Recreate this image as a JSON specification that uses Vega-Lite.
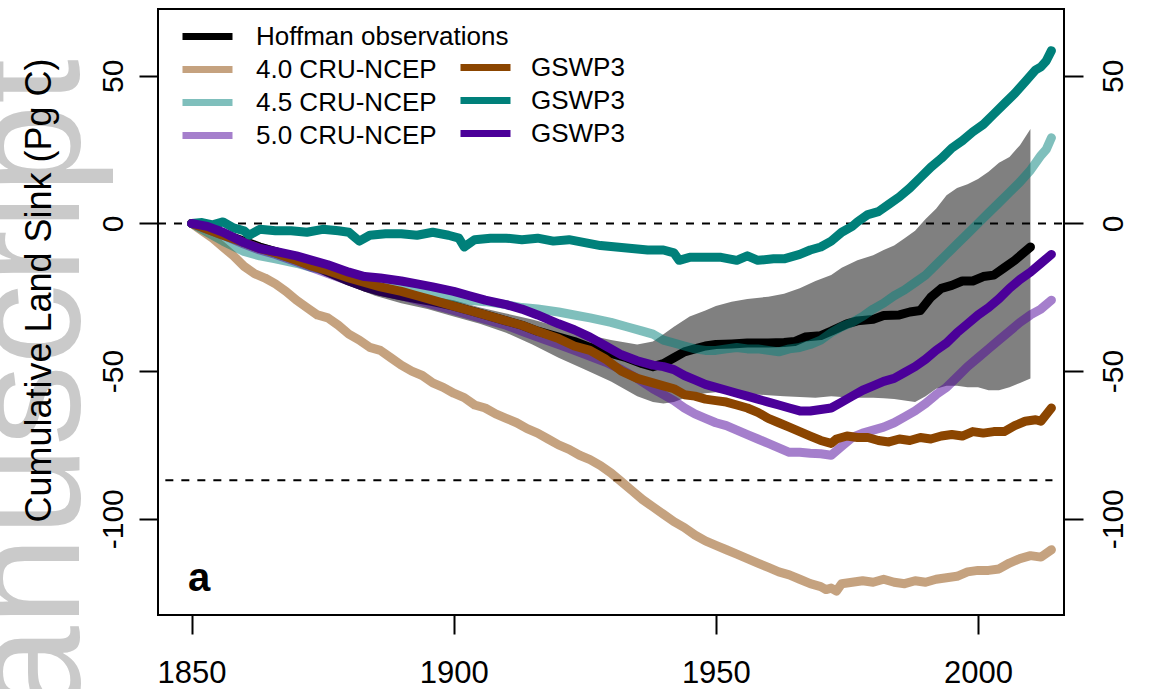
{
"$schema": "https://vega.github.io/schema/vega-lite/v6.json",
"width": 906, "height": 606,
"autosize": {"type": "none"},
"padding": {"left": 158, "top": 9, "right": 85, "bottom": 74},
"background": "white",
"config": {
  "view": {"stroke": "black", "strokeWidth": 2},
  "font": "Liberation Sans",
  "axis": {"domain": false, "grid": false, "tickColor": "black", "tickWidth": 2, "tickSize": 19, "labelColor": "black", "labelFont": "Liberation Sans", "titleFont": "Liberation Sans", "titleColor": "black"},
  "legend": {"labelFont": "Liberation Sans", "labelColor": "black"}
},
"title": {"text": "Manuscript", "orient": "left", "anchor": "end", "fontSize": 162, "font": "Liberation Sans", "fontWeight": "normal", "color": "#cacaca", "offset": -80, "dx": -50, "dy": 12, "zindex": 0},
"datasets": {
  "band": [
    {"year":1850,"lo":0,"hi":0},{"year":1855,"lo":-4,"hi":-2.5},{"year":1860,"lo":-7.5,"hi":-5},{"year":1865,"lo":-11,"hi":-7.5},{"year":1870,"lo":-14,"hi":-10.5},{"year":1875,"lo":-17.5,"hi":-13.5},{"year":1880,"lo":-21,"hi":-17},{"year":1885,"lo":-24.5,"hi":-20.5},{"year":1890,"lo":-27,"hi":-22.5},{"year":1895,"lo":-29,"hi":-24.5},{"year":1900,"lo":-31.5,"hi":-26},{"year":1905,"lo":-34,"hi":-28.5},{"year":1910,"lo":-37,"hi":-30.5},{"year":1915,"lo":-41,"hi":-32.5},{"year":1920,"lo":-45.5,"hi":-35},{"year":1925,"lo":-49.5,"hi":-37.5},{"year":1930,"lo":-53.5,"hi":-39.5},{"year":1935,"lo":-58.5,"hi":-41},{"year":1938,"lo":-60.5,"hi":-40},{"year":1940,"lo":-61,"hi":-37.5},{"year":1942,"lo":-60.5,"hi":-35},{"year":1945,"lo":-58.5,"hi":-31.5},{"year":1948,"lo":-57.5,"hi":-29.5},{"year":1950,"lo":-57.2,"hi":-28},{"year":1953,"lo":-57.5,"hi":-26.5},{"year":1956,"lo":-57.7,"hi":-25.6},{"year":1960,"lo":-58.2,"hi":-24.8},{"year":1963,"lo":-58.5,"hi":-23.8},{"year":1966,"lo":-58.8,"hi":-22},{"year":1969,"lo":-59,"hi":-19.5},{"year":1972,"lo":-58.5,"hi":-17.5},{"year":1974,"lo":-58.8,"hi":-15},{"year":1977,"lo":-59,"hi":-12.5},{"year":1980,"lo":-59,"hi":-10.8},{"year":1982,"lo":-59.2,"hi":-9},{"year":1984,"lo":-59.5,"hi":-7.5},{"year":1986,"lo":-60,"hi":-5},{"year":1988,"lo":-60.5,"hi":-2.5},{"year":1990,"lo":-58.5,"hi":1.5},{"year":1992,"lo":-56,"hi":5},{"year":1994,"lo":-55,"hi":9.5},{"year":1996,"lo":-55,"hi":12},{"year":1998,"lo":-55.5,"hi":13.3},{"year":2000,"lo":-55.5,"hi":15},{"year":2002,"lo":-56.5,"hi":17.5},{"year":2004,"lo":-56.5,"hi":20.5},{"year":2006,"lo":-55.5,"hi":22.5},{"year":2008,"lo":-54,"hi":26.5},{"year":2010,"lo":-52.5,"hi":32}
  ],
  "refs": [
    {"x": 1843.6, "x2": 2016.4, "y": 0},
    {"x": 1845, "x2": 2014.2, "y": -87}
  ],
  "hoffman": [
    {"series":"Hoffman observations","year":1850,"value":0},{"series":"Hoffman observations","year":1853,"value":-1.5},{"series":"Hoffman observations","year":1856,"value":-3.5},{"series":"Hoffman observations","year":1860,"value":-6},{"series":"Hoffman observations","year":1863,"value":-8},{"series":"Hoffman observations","year":1866,"value":-9.5},{"series":"Hoffman observations","year":1870,"value":-12},{"series":"Hoffman observations","year":1873,"value":-14},{"series":"Hoffman observations","year":1876,"value":-16.5},{"series":"Hoffman observations","year":1880,"value":-19.5},{"series":"Hoffman observations","year":1883,"value":-21.5},{"series":"Hoffman observations","year":1886,"value":-23},{"series":"Hoffman observations","year":1890,"value":-24.5},{"series":"Hoffman observations","year":1893,"value":-25.5},{"series":"Hoffman observations","year":1896,"value":-26.5},{"series":"Hoffman observations","year":1900,"value":-28},{"series":"Hoffman observations","year":1903,"value":-29.5},{"series":"Hoffman observations","year":1906,"value":-31},{"series":"Hoffman observations","year":1910,"value":-33},{"series":"Hoffman observations","year":1913,"value":-34.5},{"series":"Hoffman observations","year":1916,"value":-36.5},{"series":"Hoffman observations","year":1920,"value":-38.5},{"series":"Hoffman observations","year":1923,"value":-40},{"series":"Hoffman observations","year":1926,"value":-42},{"series":"Hoffman observations","year":1930,"value":-44},{"series":"Hoffman observations","year":1933,"value":-45.5},{"series":"Hoffman observations","year":1936,"value":-47.5},{"series":"Hoffman observations","year":1938,"value":-48.5},{"series":"Hoffman observations","year":1940,"value":-47.5},{"series":"Hoffman observations","year":1942,"value":-45.5},{"series":"Hoffman observations","year":1944,"value":-43.5},{"series":"Hoffman observations","year":1946,"value":-42.5},{"series":"Hoffman observations","year":1948,"value":-41.5},{"series":"Hoffman observations","year":1950,"value":-41},{"series":"Hoffman observations","year":1953,"value":-40.8},{"series":"Hoffman observations","year":1956,"value":-40.5},{"series":"Hoffman observations","year":1960,"value":-40.5},{"series":"Hoffman observations","year":1963,"value":-40.3},{"series":"Hoffman observations","year":1965,"value":-40},{"series":"Hoffman observations","year":1967,"value":-38.5},{"series":"Hoffman observations","year":1970,"value":-38},{"series":"Hoffman observations","year":1972,"value":-36.5},{"series":"Hoffman observations","year":1975,"value":-34},{"series":"Hoffman observations","year":1977,"value":-33},{"series":"Hoffman observations","year":1980,"value":-32.5},{"series":"Hoffman observations","year":1982,"value":-31.2},{"series":"Hoffman observations","year":1985,"value":-31},{"series":"Hoffman observations","year":1987,"value":-30},{"series":"Hoffman observations","year":1989,"value":-29.5},{"series":"Hoffman observations","year":1991,"value":-25},{"series":"Hoffman observations","year":1993,"value":-22},{"series":"Hoffman observations","year":1995,"value":-21},{"series":"Hoffman observations","year":1997,"value":-19.5},{"series":"Hoffman observations","year":1999,"value":-19.5},{"series":"Hoffman observations","year":2001,"value":-18},{"series":"Hoffman observations","year":2003,"value":-17.5},{"series":"Hoffman observations","year":2005,"value":-15},{"series":"Hoffman observations","year":2007,"value":-12.5},{"series":"Hoffman observations","year":2010,"value":-8}
  ],
  "cru": [
    {"series":"4.0 CRU-NCEP","year":1850,"value":0},{"series":"4.0 CRU-NCEP","year":1852,"value":-2.5},{"series":"4.0 CRU-NCEP","year":1854,"value":-5},{"series":"4.0 CRU-NCEP","year":1856,"value":-8},{"series":"4.0 CRU-NCEP","year":1858,"value":-11},{"series":"4.0 CRU-NCEP","year":1860,"value":-14.5},{"series":"4.0 CRU-NCEP","year":1862,"value":-17},{"series":"4.0 CRU-NCEP","year":1864,"value":-18.5},{"series":"4.0 CRU-NCEP","year":1866,"value":-20.5},{"series":"4.0 CRU-NCEP","year":1868,"value":-23},{"series":"4.0 CRU-NCEP","year":1870,"value":-26},{"series":"4.0 CRU-NCEP","year":1872,"value":-28.5},{"series":"4.0 CRU-NCEP","year":1874,"value":-31},{"series":"4.0 CRU-NCEP","year":1876,"value":-32},{"series":"4.0 CRU-NCEP","year":1878,"value":-34.5},{"series":"4.0 CRU-NCEP","year":1880,"value":-37.5},{"series":"4.0 CRU-NCEP","year":1882,"value":-39.5},{"series":"4.0 CRU-NCEP","year":1884,"value":-42},{"series":"4.0 CRU-NCEP","year":1886,"value":-43},{"series":"4.0 CRU-NCEP","year":1888,"value":-45.5},{"series":"4.0 CRU-NCEP","year":1890,"value":-48},{"series":"4.0 CRU-NCEP","year":1892,"value":-50},{"series":"4.0 CRU-NCEP","year":1894,"value":-51.5},{"series":"4.0 CRU-NCEP","year":1896,"value":-54},{"series":"4.0 CRU-NCEP","year":1898,"value":-55.5},{"series":"4.0 CRU-NCEP","year":1900,"value":-57.5},{"series":"4.0 CRU-NCEP","year":1902,"value":-59},{"series":"4.0 CRU-NCEP","year":1904,"value":-61.5},{"series":"4.0 CRU-NCEP","year":1906,"value":-62.5},{"series":"4.0 CRU-NCEP","year":1908,"value":-64.5},{"series":"4.0 CRU-NCEP","year":1910,"value":-66},{"series":"4.0 CRU-NCEP","year":1912,"value":-67.5},{"series":"4.0 CRU-NCEP","year":1914,"value":-69.5},{"series":"4.0 CRU-NCEP","year":1916,"value":-71},{"series":"4.0 CRU-NCEP","year":1918,"value":-73},{"series":"4.0 CRU-NCEP","year":1920,"value":-75},{"series":"4.0 CRU-NCEP","year":1922,"value":-76.5},{"series":"4.0 CRU-NCEP","year":1924,"value":-78.5},{"series":"4.0 CRU-NCEP","year":1926,"value":-80},{"series":"4.0 CRU-NCEP","year":1928,"value":-82},{"series":"4.0 CRU-NCEP","year":1930,"value":-84.5},{"series":"4.0 CRU-NCEP","year":1932,"value":-87.5},{"series":"4.0 CRU-NCEP","year":1934,"value":-90.5},{"series":"4.0 CRU-NCEP","year":1936,"value":-93.5},{"series":"4.0 CRU-NCEP","year":1938,"value":-96},{"series":"4.0 CRU-NCEP","year":1940,"value":-98.5},{"series":"4.0 CRU-NCEP","year":1942,"value":-101},{"series":"4.0 CRU-NCEP","year":1944,"value":-103},{"series":"4.0 CRU-NCEP","year":1946,"value":-105.5},{"series":"4.0 CRU-NCEP","year":1948,"value":-107.5},{"series":"4.0 CRU-NCEP","year":1950,"value":-109},{"series":"4.0 CRU-NCEP","year":1952,"value":-110.5},{"series":"4.0 CRU-NCEP","year":1954,"value":-112},{"series":"4.0 CRU-NCEP","year":1956,"value":-113.5},{"series":"4.0 CRU-NCEP","year":1958,"value":-115},{"series":"4.0 CRU-NCEP","year":1960,"value":-116.5},{"series":"4.0 CRU-NCEP","year":1962,"value":-118},{"series":"4.0 CRU-NCEP","year":1964,"value":-119},{"series":"4.0 CRU-NCEP","year":1966,"value":-120.5},{"series":"4.0 CRU-NCEP","year":1968,"value":-122},{"series":"4.0 CRU-NCEP","year":1970,"value":-123},{"series":"4.0 CRU-NCEP","year":1971,"value":-124},{"series":"4.0 CRU-NCEP","year":1972,"value":-123.5},{"series":"4.0 CRU-NCEP","year":1973,"value":-124.5},{"series":"4.0 CRU-NCEP","year":1974,"value":-122},{"series":"4.0 CRU-NCEP","year":1976,"value":-121.5},{"series":"4.0 CRU-NCEP","year":1978,"value":-121},{"series":"4.0 CRU-NCEP","year":1980,"value":-121.5},{"series":"4.0 CRU-NCEP","year":1982,"value":-120.5},{"series":"4.0 CRU-NCEP","year":1984,"value":-121.5},{"series":"4.0 CRU-NCEP","year":1986,"value":-122},{"series":"4.0 CRU-NCEP","year":1988,"value":-121},{"series":"4.0 CRU-NCEP","year":1990,"value":-121.5},{"series":"4.0 CRU-NCEP","year":1992,"value":-120.5},{"series":"4.0 CRU-NCEP","year":1994,"value":-120},{"series":"4.0 CRU-NCEP","year":1996,"value":-119.5},{"series":"4.0 CRU-NCEP","year":1998,"value":-118},{"series":"4.0 CRU-NCEP","year":2000,"value":-117.5},{"series":"4.0 CRU-NCEP","year":2002,"value":-117.5},{"series":"4.0 CRU-NCEP","year":2004,"value":-117},{"series":"4.0 CRU-NCEP","year":2006,"value":-115},{"series":"4.0 CRU-NCEP","year":2008,"value":-113.5},{"series":"4.0 CRU-NCEP","year":2010,"value":-112.5},{"series":"4.0 CRU-NCEP","year":2012,"value":-113},{"series":"4.0 CRU-NCEP","year":2014,"value":-110.5},
    {"series":"4.5 CRU-NCEP","year":1850,"value":0},{"series":"4.5 CRU-NCEP","year":1853,"value":-3},{"series":"4.5 CRU-NCEP","year":1856,"value":-6},{"series":"4.5 CRU-NCEP","year":1860,"value":-9.5},{"series":"4.5 CRU-NCEP","year":1863,"value":-11},{"series":"4.5 CRU-NCEP","year":1866,"value":-12},{"series":"4.5 CRU-NCEP","year":1870,"value":-13.5},{"series":"4.5 CRU-NCEP","year":1873,"value":-15},{"series":"4.5 CRU-NCEP","year":1876,"value":-16},{"series":"4.5 CRU-NCEP","year":1880,"value":-18},{"series":"4.5 CRU-NCEP","year":1883,"value":-19.5},{"series":"4.5 CRU-NCEP","year":1886,"value":-20.5},{"series":"4.5 CRU-NCEP","year":1890,"value":-22},{"series":"4.5 CRU-NCEP","year":1893,"value":-23},{"series":"4.5 CRU-NCEP","year":1896,"value":-24},{"series":"4.5 CRU-NCEP","year":1900,"value":-25},{"series":"4.5 CRU-NCEP","year":1903,"value":-26},{"series":"4.5 CRU-NCEP","year":1906,"value":-26.5},{"series":"4.5 CRU-NCEP","year":1910,"value":-27.5},{"series":"4.5 CRU-NCEP","year":1913,"value":-28.5},{"series":"4.5 CRU-NCEP","year":1916,"value":-29},{"series":"4.5 CRU-NCEP","year":1920,"value":-30},{"series":"4.5 CRU-NCEP","year":1923,"value":-31},{"series":"4.5 CRU-NCEP","year":1926,"value":-32},{"series":"4.5 CRU-NCEP","year":1930,"value":-33.5},{"series":"4.5 CRU-NCEP","year":1933,"value":-35},{"series":"4.5 CRU-NCEP","year":1936,"value":-36.5},{"series":"4.5 CRU-NCEP","year":1938,"value":-37.5},{"series":"4.5 CRU-NCEP","year":1940,"value":-39.5},{"series":"4.5 CRU-NCEP","year":1942,"value":-40.5},{"series":"4.5 CRU-NCEP","year":1944,"value":-41.5},{"series":"4.5 CRU-NCEP","year":1946,"value":-42.5},{"series":"4.5 CRU-NCEP","year":1948,"value":-43},{"series":"4.5 CRU-NCEP","year":1950,"value":-43},{"series":"4.5 CRU-NCEP","year":1952,"value":-42.5},{"series":"4.5 CRU-NCEP","year":1954,"value":-42},{"series":"4.5 CRU-NCEP","year":1956,"value":-42.5},{"series":"4.5 CRU-NCEP","year":1958,"value":-42.5},{"series":"4.5 CRU-NCEP","year":1960,"value":-43},{"series":"4.5 CRU-NCEP","year":1962,"value":-43.5},{"series":"4.5 CRU-NCEP","year":1964,"value":-42.5},{"series":"4.5 CRU-NCEP","year":1966,"value":-42},{"series":"4.5 CRU-NCEP","year":1968,"value":-41},{"series":"4.5 CRU-NCEP","year":1970,"value":-39.5},{"series":"4.5 CRU-NCEP","year":1972,"value":-37},{"series":"4.5 CRU-NCEP","year":1974,"value":-35},{"series":"4.5 CRU-NCEP","year":1976,"value":-33.5},{"series":"4.5 CRU-NCEP","year":1978,"value":-31.5},{"series":"4.5 CRU-NCEP","year":1980,"value":-29},{"series":"4.5 CRU-NCEP","year":1982,"value":-27},{"series":"4.5 CRU-NCEP","year":1984,"value":-24.5},{"series":"4.5 CRU-NCEP","year":1986,"value":-22.5},{"series":"4.5 CRU-NCEP","year":1988,"value":-20},{"series":"4.5 CRU-NCEP","year":1990,"value":-17.5},{"series":"4.5 CRU-NCEP","year":1992,"value":-14},{"series":"4.5 CRU-NCEP","year":1994,"value":-10.5},{"series":"4.5 CRU-NCEP","year":1996,"value":-7},{"series":"4.5 CRU-NCEP","year":1998,"value":-3.5},{"series":"4.5 CRU-NCEP","year":2000,"value":0},{"series":"4.5 CRU-NCEP","year":2002,"value":3.5},{"series":"4.5 CRU-NCEP","year":2004,"value":7},{"series":"4.5 CRU-NCEP","year":2006,"value":10.5},{"series":"4.5 CRU-NCEP","year":2008,"value":14},{"series":"4.5 CRU-NCEP","year":2010,"value":18},{"series":"4.5 CRU-NCEP","year":2012,"value":23},{"series":"4.5 CRU-NCEP","year":2013,"value":25},{"series":"4.5 CRU-NCEP","year":2014,"value":29},
    {"series":"5.0 CRU-NCEP","year":1850,"value":0},{"series":"5.0 CRU-NCEP","year":1853,"value":-2},{"series":"5.0 CRU-NCEP","year":1856,"value":-4},{"series":"5.0 CRU-NCEP","year":1860,"value":-7},{"series":"5.0 CRU-NCEP","year":1863,"value":-9},{"series":"5.0 CRU-NCEP","year":1866,"value":-10.5},{"series":"5.0 CRU-NCEP","year":1870,"value":-13},{"series":"5.0 CRU-NCEP","year":1873,"value":-15},{"series":"5.0 CRU-NCEP","year":1876,"value":-17},{"series":"5.0 CRU-NCEP","year":1880,"value":-19.5},{"series":"5.0 CRU-NCEP","year":1883,"value":-21.5},{"series":"5.0 CRU-NCEP","year":1886,"value":-23},{"series":"5.0 CRU-NCEP","year":1890,"value":-24.5},{"series":"5.0 CRU-NCEP","year":1893,"value":-26},{"series":"5.0 CRU-NCEP","year":1896,"value":-27.5},{"series":"5.0 CRU-NCEP","year":1900,"value":-29.5},{"series":"5.0 CRU-NCEP","year":1903,"value":-31},{"series":"5.0 CRU-NCEP","year":1906,"value":-32.5},{"series":"5.0 CRU-NCEP","year":1910,"value":-34.5},{"series":"5.0 CRU-NCEP","year":1913,"value":-36.5},{"series":"5.0 CRU-NCEP","year":1916,"value":-38.5},{"series":"5.0 CRU-NCEP","year":1920,"value":-41},{"series":"5.0 CRU-NCEP","year":1923,"value":-43},{"series":"5.0 CRU-NCEP","year":1926,"value":-45},{"series":"5.0 CRU-NCEP","year":1929,"value":-47},{"series":"5.0 CRU-NCEP","year":1932,"value":-49.5},{"series":"5.0 CRU-NCEP","year":1935,"value":-52.5},{"series":"5.0 CRU-NCEP","year":1938,"value":-56},{"series":"5.0 CRU-NCEP","year":1940,"value":-58},{"series":"5.0 CRU-NCEP","year":1942,"value":-60},{"series":"5.0 CRU-NCEP","year":1944,"value":-62.5},{"series":"5.0 CRU-NCEP","year":1946,"value":-64.5},{"series":"5.0 CRU-NCEP","year":1948,"value":-66},{"series":"5.0 CRU-NCEP","year":1950,"value":-67.5},{"series":"5.0 CRU-NCEP","year":1952,"value":-68.5},{"series":"5.0 CRU-NCEP","year":1954,"value":-70},{"series":"5.0 CRU-NCEP","year":1956,"value":-71.5},{"series":"5.0 CRU-NCEP","year":1958,"value":-73},{"series":"5.0 CRU-NCEP","year":1960,"value":-74.5},{"series":"5.0 CRU-NCEP","year":1962,"value":-76},{"series":"5.0 CRU-NCEP","year":1964,"value":-77.5},{"series":"5.0 CRU-NCEP","year":1966,"value":-77.5},{"series":"5.0 CRU-NCEP","year":1968,"value":-77.8},{"series":"5.0 CRU-NCEP","year":1970,"value":-78},{"series":"5.0 CRU-NCEP","year":1972,"value":-78.5},{"series":"5.0 CRU-NCEP","year":1974,"value":-75.5},{"series":"5.0 CRU-NCEP","year":1976,"value":-72.5},{"series":"5.0 CRU-NCEP","year":1978,"value":-71},{"series":"5.0 CRU-NCEP","year":1980,"value":-70},{"series":"5.0 CRU-NCEP","year":1982,"value":-69},{"series":"5.0 CRU-NCEP","year":1984,"value":-67.5},{"series":"5.0 CRU-NCEP","year":1986,"value":-65.5},{"series":"5.0 CRU-NCEP","year":1988,"value":-63.5},{"series":"5.0 CRU-NCEP","year":1990,"value":-61},{"series":"5.0 CRU-NCEP","year":1992,"value":-58},{"series":"5.0 CRU-NCEP","year":1994,"value":-55.5},{"series":"5.0 CRU-NCEP","year":1996,"value":-52},{"series":"5.0 CRU-NCEP","year":1998,"value":-48.5},{"series":"5.0 CRU-NCEP","year":2000,"value":-45.5},{"series":"5.0 CRU-NCEP","year":2002,"value":-42.5},{"series":"5.0 CRU-NCEP","year":2004,"value":-39.5},{"series":"5.0 CRU-NCEP","year":2006,"value":-36.5},{"series":"5.0 CRU-NCEP","year":2008,"value":-33.5},{"series":"5.0 CRU-NCEP","year":2010,"value":-31},{"series":"5.0 CRU-NCEP","year":2012,"value":-29},{"series":"5.0 CRU-NCEP","year":2014,"value":-26}
  ],
  "gswp": [
    {"series":"4.0 GSWP3","year":1850,"value":0},{"series":"4.0 GSWP3","year":1853,"value":-2},{"series":"4.0 GSWP3","year":1856,"value":-4},{"series":"4.0 GSWP3","year":1860,"value":-6.5},{"series":"4.0 GSWP3","year":1863,"value":-8.5},{"series":"4.0 GSWP3","year":1866,"value":-10},{"series":"4.0 GSWP3","year":1870,"value":-12.5},{"series":"4.0 GSWP3","year":1873,"value":-14.5},{"series":"4.0 GSWP3","year":1876,"value":-16},{"series":"4.0 GSWP3","year":1880,"value":-18.5},{"series":"4.0 GSWP3","year":1883,"value":-20},{"series":"4.0 GSWP3","year":1886,"value":-21.5},{"series":"4.0 GSWP3","year":1890,"value":-23},{"series":"4.0 GSWP3","year":1893,"value":-24.5},{"series":"4.0 GSWP3","year":1896,"value":-26},{"series":"4.0 GSWP3","year":1900,"value":-28},{"series":"4.0 GSWP3","year":1903,"value":-29.5},{"series":"4.0 GSWP3","year":1906,"value":-31},{"series":"4.0 GSWP3","year":1910,"value":-33},{"series":"4.0 GSWP3","year":1913,"value":-34.5},{"series":"4.0 GSWP3","year":1916,"value":-36.5},{"series":"4.0 GSWP3","year":1920,"value":-39},{"series":"4.0 GSWP3","year":1923,"value":-41.5},{"series":"4.0 GSWP3","year":1926,"value":-43},{"series":"4.0 GSWP3","year":1929,"value":-46},{"series":"4.0 GSWP3","year":1932,"value":-50},{"series":"4.0 GSWP3","year":1935,"value":-52.5},{"series":"4.0 GSWP3","year":1938,"value":-54},{"series":"4.0 GSWP3","year":1940,"value":-55},{"series":"4.0 GSWP3","year":1942,"value":-56},{"series":"4.0 GSWP3","year":1944,"value":-58},{"series":"4.0 GSWP3","year":1946,"value":-58.5},{"series":"4.0 GSWP3","year":1948,"value":-59.5},{"series":"4.0 GSWP3","year":1950,"value":-60},{"series":"4.0 GSWP3","year":1952,"value":-60.5},{"series":"4.0 GSWP3","year":1954,"value":-61.5},{"series":"4.0 GSWP3","year":1956,"value":-62.5},{"series":"4.0 GSWP3","year":1958,"value":-64},{"series":"4.0 GSWP3","year":1960,"value":-66},{"series":"4.0 GSWP3","year":1962,"value":-67.5},{"series":"4.0 GSWP3","year":1964,"value":-69},{"series":"4.0 GSWP3","year":1966,"value":-70.5},{"series":"4.0 GSWP3","year":1968,"value":-72},{"series":"4.0 GSWP3","year":1970,"value":-73.5},{"series":"4.0 GSWP3","year":1972,"value":-74.5},{"series":"4.0 GSWP3","year":1973,"value":-73},{"series":"4.0 GSWP3","year":1975,"value":-72},{"series":"4.0 GSWP3","year":1977,"value":-72.5},{"series":"4.0 GSWP3","year":1979,"value":-72.5},{"series":"4.0 GSWP3","year":1981,"value":-73.5},{"series":"4.0 GSWP3","year":1983,"value":-74},{"series":"4.0 GSWP3","year":1985,"value":-73},{"series":"4.0 GSWP3","year":1987,"value":-73.5},{"series":"4.0 GSWP3","year":1989,"value":-72.5},{"series":"4.0 GSWP3","year":1991,"value":-73},{"series":"4.0 GSWP3","year":1993,"value":-72},{"series":"4.0 GSWP3","year":1995,"value":-71.5},{"series":"4.0 GSWP3","year":1997,"value":-72},{"series":"4.0 GSWP3","year":1999,"value":-70.5},{"series":"4.0 GSWP3","year":2001,"value":-71},{"series":"4.0 GSWP3","year":2003,"value":-70.5},{"series":"4.0 GSWP3","year":2005,"value":-70.5},{"series":"4.0 GSWP3","year":2007,"value":-68.5},{"series":"4.0 GSWP3","year":2009,"value":-67},{"series":"4.0 GSWP3","year":2011,"value":-66.5},{"series":"4.0 GSWP3","year":2012,"value":-67},{"series":"4.0 GSWP3","year":2014,"value":-62.5},
    {"series":"4.5 GSWP3","year":1850,"value":0},{"series":"4.5 GSWP3","year":1852,"value":0.3},{"series":"4.5 GSWP3","year":1854,"value":-0.5},{"series":"4.5 GSWP3","year":1856,"value":0.5},{"series":"4.5 GSWP3","year":1858,"value":-1.5},{"series":"4.5 GSWP3","year":1860,"value":-2.5},{"series":"4.5 GSWP3","year":1861,"value":-4},{"series":"4.5 GSWP3","year":1863,"value":-2},{"series":"4.5 GSWP3","year":1866,"value":-2.5},{"series":"4.5 GSWP3","year":1869,"value":-2.5},{"series":"4.5 GSWP3","year":1872,"value":-3},{"series":"4.5 GSWP3","year":1875,"value":-2},{"series":"4.5 GSWP3","year":1878,"value":-2.5},{"series":"4.5 GSWP3","year":1880,"value":-3},{"series":"4.5 GSWP3","year":1882,"value":-6},{"series":"4.5 GSWP3","year":1884,"value":-4},{"series":"4.5 GSWP3","year":1887,"value":-3.5},{"series":"4.5 GSWP3","year":1890,"value":-3.5},{"series":"4.5 GSWP3","year":1893,"value":-4},{"series":"4.5 GSWP3","year":1896,"value":-3},{"series":"4.5 GSWP3","year":1899,"value":-4},{"series":"4.5 GSWP3","year":1901,"value":-5},{"series":"4.5 GSWP3","year":1902,"value":-8},{"series":"4.5 GSWP3","year":1904,"value":-5.5},{"series":"4.5 GSWP3","year":1907,"value":-5},{"series":"4.5 GSWP3","year":1910,"value":-5},{"series":"4.5 GSWP3","year":1913,"value":-5.5},{"series":"4.5 GSWP3","year":1916,"value":-5},{"series":"4.5 GSWP3","year":1919,"value":-6},{"series":"4.5 GSWP3","year":1922,"value":-5.5},{"series":"4.5 GSWP3","year":1925,"value":-6.5},{"series":"4.5 GSWP3","year":1928,"value":-7.5},{"series":"4.5 GSWP3","year":1931,"value":-8},{"series":"4.5 GSWP3","year":1934,"value":-8.5},{"series":"4.5 GSWP3","year":1937,"value":-9},{"series":"4.5 GSWP3","year":1940,"value":-9},{"series":"4.5 GSWP3","year":1942,"value":-10},{"series":"4.5 GSWP3","year":1943,"value":-12.5},{"series":"4.5 GSWP3","year":1945,"value":-11.5},{"series":"4.5 GSWP3","year":1948,"value":-11.5},{"series":"4.5 GSWP3","year":1951,"value":-11.5},{"series":"4.5 GSWP3","year":1954,"value":-12.5},{"series":"4.5 GSWP3","year":1956,"value":-11},{"series":"4.5 GSWP3","year":1958,"value":-12.5},{"series":"4.5 GSWP3","year":1961,"value":-12},{"series":"4.5 GSWP3","year":1963,"value":-12},{"series":"4.5 GSWP3","year":1966,"value":-10.5},{"series":"4.5 GSWP3","year":1968,"value":-9},{"series":"4.5 GSWP3","year":1970,"value":-8},{"series":"4.5 GSWP3","year":1972,"value":-6},{"series":"4.5 GSWP3","year":1974,"value":-3},{"series":"4.5 GSWP3","year":1976,"value":-1},{"series":"4.5 GSWP3","year":1977,"value":0.5},{"series":"4.5 GSWP3","year":1979,"value":3},{"series":"4.5 GSWP3","year":1981,"value":4},{"series":"4.5 GSWP3","year":1983,"value":6.5},{"series":"4.5 GSWP3","year":1985,"value":9},{"series":"4.5 GSWP3","year":1987,"value":12},{"series":"4.5 GSWP3","year":1989,"value":15.5},{"series":"4.5 GSWP3","year":1991,"value":19},{"series":"4.5 GSWP3","year":1993,"value":22},{"series":"4.5 GSWP3","year":1995,"value":25.5},{"series":"4.5 GSWP3","year":1997,"value":28},{"series":"4.5 GSWP3","year":1999,"value":31},{"series":"4.5 GSWP3","year":2001,"value":33.5},{"series":"4.5 GSWP3","year":2003,"value":37},{"series":"4.5 GSWP3","year":2005,"value":40.5},{"series":"4.5 GSWP3","year":2007,"value":44},{"series":"4.5 GSWP3","year":2009,"value":48},{"series":"4.5 GSWP3","year":2011,"value":52},{"series":"4.5 GSWP3","year":2012,"value":53},{"series":"4.5 GSWP3","year":2013,"value":55},{"series":"4.5 GSWP3","year":2014,"value":58.5},
    {"series":"5.0 GSWP3","year":1850,"value":0},{"series":"5.0 GSWP3","year":1853,"value":-1},{"series":"5.0 GSWP3","year":1856,"value":-3},{"series":"5.0 GSWP3","year":1860,"value":-6.5},{"series":"5.0 GSWP3","year":1863,"value":-8.5},{"series":"5.0 GSWP3","year":1866,"value":-9.5},{"series":"5.0 GSWP3","year":1870,"value":-11},{"series":"5.0 GSWP3","year":1873,"value":-12.5},{"series":"5.0 GSWP3","year":1876,"value":-14},{"series":"5.0 GSWP3","year":1880,"value":-16.5},{"series":"5.0 GSWP3","year":1883,"value":-18},{"series":"5.0 GSWP3","year":1886,"value":-18.5},{"series":"5.0 GSWP3","year":1890,"value":-19.5},{"series":"5.0 GSWP3","year":1893,"value":-20.5},{"series":"5.0 GSWP3","year":1896,"value":-21.5},{"series":"5.0 GSWP3","year":1900,"value":-23},{"series":"5.0 GSWP3","year":1903,"value":-24.5},{"series":"5.0 GSWP3","year":1906,"value":-26},{"series":"5.0 GSWP3","year":1910,"value":-27.5},{"series":"5.0 GSWP3","year":1913,"value":-29},{"series":"5.0 GSWP3","year":1916,"value":-31},{"series":"5.0 GSWP3","year":1920,"value":-34},{"series":"5.0 GSWP3","year":1923,"value":-36},{"series":"5.0 GSWP3","year":1926,"value":-38.5},{"series":"5.0 GSWP3","year":1929,"value":-41.5},{"series":"5.0 GSWP3","year":1932,"value":-44.5},{"series":"5.0 GSWP3","year":1935,"value":-46.5},{"series":"5.0 GSWP3","year":1938,"value":-48},{"series":"5.0 GSWP3","year":1940,"value":-48.5},{"series":"5.0 GSWP3","year":1942,"value":-49.5},{"series":"5.0 GSWP3","year":1944,"value":-51.5},{"series":"5.0 GSWP3","year":1946,"value":-53},{"series":"5.0 GSWP3","year":1948,"value":-54.5},{"series":"5.0 GSWP3","year":1950,"value":-55.5},{"series":"5.0 GSWP3","year":1952,"value":-56.5},{"series":"5.0 GSWP3","year":1954,"value":-57.5},{"series":"5.0 GSWP3","year":1956,"value":-58.5},{"series":"5.0 GSWP3","year":1958,"value":-59.5},{"series":"5.0 GSWP3","year":1960,"value":-60.5},{"series":"5.0 GSWP3","year":1962,"value":-61.5},{"series":"5.0 GSWP3","year":1964,"value":-62.5},{"series":"5.0 GSWP3","year":1966,"value":-63.5},{"series":"5.0 GSWP3","year":1968,"value":-63.5},{"series":"5.0 GSWP3","year":1970,"value":-63},{"series":"5.0 GSWP3","year":1972,"value":-62.5},{"series":"5.0 GSWP3","year":1974,"value":-60.5},{"series":"5.0 GSWP3","year":1976,"value":-58.5},{"series":"5.0 GSWP3","year":1978,"value":-56.5},{"series":"5.0 GSWP3","year":1980,"value":-55},{"series":"5.0 GSWP3","year":1982,"value":-53.5},{"series":"5.0 GSWP3","year":1984,"value":-52.5},{"series":"5.0 GSWP3","year":1986,"value":-50.5},{"series":"5.0 GSWP3","year":1988,"value":-48.5},{"series":"5.0 GSWP3","year":1990,"value":-46},{"series":"5.0 GSWP3","year":1992,"value":-43},{"series":"5.0 GSWP3","year":1994,"value":-40.5},{"series":"5.0 GSWP3","year":1996,"value":-37},{"series":"5.0 GSWP3","year":1998,"value":-34},{"series":"5.0 GSWP3","year":2000,"value":-31},{"series":"5.0 GSWP3","year":2002,"value":-28.5},{"series":"5.0 GSWP3","year":2004,"value":-25.5},{"series":"5.0 GSWP3","year":2006,"value":-22},{"series":"5.0 GSWP3","year":2008,"value":-19},{"series":"5.0 GSWP3","year":2010,"value":-16.5},{"series":"5.0 GSWP3","year":2012,"value":-13.5},{"series":"5.0 GSWP3","year":2014,"value":-10.5}
  ],
  "panel": [{"year": 1849.3, "value": -124.4, "label": "a"}]
},
"layer": [
  {
    "data": {"name": "band"},
    "mark": {"type": "area", "color": "#808080", "opacity": 1},
    "encoding": {
      "x": {"field": "year", "type": "quantitative", "scale": {"domain": [1843.6, 2016.4], "nice": false, "zero": false},
            "axis": {"values": [1850, 1900, 1950, 2000], "labelExpr": "'' + datum.value", "title": null, "labelFontSize": 31, "labelPadding": 24, "labelFlush": false, "labelOverlap": false}},
      "y": {"field": "lo", "type": "quantitative", "scale": {"domain": [-132.6, 72.6], "nice": false, "zero": false},
            "axis": {"orient": "left", "values": [50, 0, -50, -100], "labelExpr": "'' + datum.value", "labelFontSize": 30, "labelAngle": -90, "labelAlign": "center", "labelBaseline": "alphabetic", "labelPadding": 17, "labelFlush": false, "labelOverlap": false, "zindex": 1,
                     "title": "Cumulative Land Sink (Pg C)", "titleFontSize": 36, "titleFontWeight": "normal", "titleAngle": -90, "titleAlign": "center", "titleBaseline": "alphabetic", "titleX": -108, "titleY": 281}},
      "y2": {"field": "hi"}
    }
  },
  {
    "data": {"name": "refs"},
    "mark": {"type": "rule", "color": "black", "strokeWidth": 2, "strokeDash": [8, 8]},
    "encoding": {
      "x": {"field": "x", "type": "quantitative"},
      "x2": {"field": "x2"},
      "y": {"field": "y", "type": "quantitative", "axis": null}
    }
  },
  {
    "data": {"name": "hoffman"},
    "mark": {"type": "line", "strokeWidth": 9, "strokeCap": "round", "strokeJoin": "round"},
    "encoding": {
      "x": {"field": "year", "type": "quantitative"},
      "y": {"field": "value", "type": "quantitative", "axis": null},
      "color": {"field": "series", "type": "nominal",
                "scale": {"domain": ["Hoffman observations", "4.0 CRU-NCEP", "4.5 CRU-NCEP", "5.0 CRU-NCEP"], "range": ["#000000", "rgba(139,69,0,0.5)", "rgba(0,128,122,0.5)", "rgba(75,0,153,0.5)"]},
                "legend": {"orient": "none", "legendX": 31, "legendY": 9, "title": null, "symbolType": "M-1.667,0L1.667,0", "symbolSize": 900, "symbolStrokeWidth": 7, "labelFontSize": 26, "labelOffset": 30, "rowPadding": 0, "padding": 0, "labelLimit": 400}}
    }
  },
  {
    "data": {"name": "cru"},
    "mark": {"type": "line", "strokeWidth": 9, "strokeCap": "round", "strokeJoin": "round"},
    "encoding": {
      "x": {"field": "year", "type": "quantitative"},
      "y": {"field": "value", "type": "quantitative", "axis": null},
      "color": {"field": "series", "type": "nominal",
                "scale": {"domain": ["Hoffman observations", "4.0 CRU-NCEP", "4.5 CRU-NCEP", "5.0 CRU-NCEP"], "range": ["#000000", "rgba(139,69,0,0.5)", "rgba(0,128,122,0.5)", "rgba(75,0,153,0.5)"]},
                "legend": {"orient": "none", "legendX": 31, "legendY": 9, "title": null, "symbolType": "M-1.667,0L1.667,0", "symbolSize": 900, "symbolStrokeWidth": 7, "labelFontSize": 26, "labelOffset": 30, "rowPadding": 0, "padding": 0, "labelLimit": 400}}
    }
  },
  {
    "data": {"name": "gswp"},
    "mark": {"type": "line", "strokeWidth": 9, "strokeCap": "round", "strokeJoin": "round"},
    "encoding": {
      "x": {"field": "year", "type": "quantitative"},
      "y": {"field": "value", "type": "quantitative", "axis": null},
      "stroke": {"field": "series", "type": "nominal",
                 "scale": {"domain": ["4.0 GSWP3", "4.5 GSWP3", "5.0 GSWP3"], "range": ["#8B4500", "#00807A", "#4B0099"]},
                 "legend": {"orient": "none", "legendX": 309, "legendY": 40, "title": null, "symbolType": "M-1.667,0L1.667,0", "symbolSize": 900, "symbolStrokeWidth": 7, "labelFontSize": 26, "labelOffset": 27, "rowPadding": 0, "padding": 0, "labelExpr": "'GSWP3'"}}
    }
  },
  {
    "data": {"name": "panel"},
    "mark": {"type": "text", "fontSize": 40, "fontWeight": "bold", "align": "left", "baseline": "alphabetic", "color": "black", "font": "Liberation Sans"},
    "encoding": {
      "x": {"field": "year", "type": "quantitative"},
      "y": {"field": "value", "type": "quantitative",
            "axis": {"orient": "right", "values": [50, 0, -50, -100], "labelExpr": "'' + datum.value", "labelFontSize": 30, "labelAngle": -90, "labelAlign": "center", "labelBaseline": "top", "labelPadding": 15, "labelFlush": false, "labelOverlap": false, "title": null}},
      "text": {"field": "label"}
    }
  }
],
"resolve": {"axis": {"y": "independent"}}
}
